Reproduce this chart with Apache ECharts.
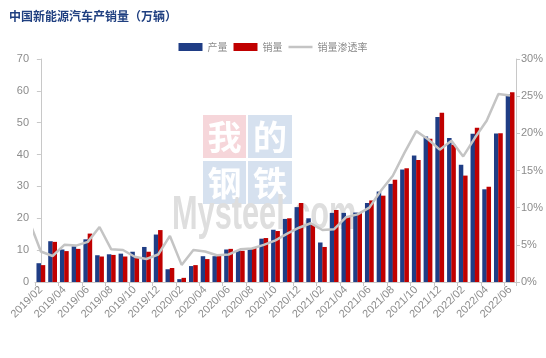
<!DOCTYPE html>
<html>
<head>
<meta charset="utf-8">
<script src="https://cdn.jsdelivr.net/npm/echarts@6/dist/echarts.min.js"></script>
<style>
html,body{margin:0;padding:0;background:#fff;}
#chart{width:546px;height:358px;}
</style>
</head>
<body>
<div id="chart"></div>
<script>
const categories = [
  '2019/02','2019/03','2019/04','2019/05','2019/06','2019/07','2019/08','2019/09','2019/10','2019/11','2019/12',
  '2020/01','2020/02','2020/03','2020/04','2020/05','2020/06','2020/07','2020/08','2020/09','2020/10','2020/11','2020/12',
  '2021/01','2021/02','2021/03','2021/04','2021/05','2021/06','2021/07','2021/08','2021/09','2021/10','2021/11','2021/12',
  '2022/01','2022/02','2022/03','2022/04','2022/05','2022/06'
];
const production = [
  5.9,12.8,10.2,11.2,13.4,8.4,8.7,8.9,9.5,11.0,14.9,
  4.0,0.9,5.0,8.1,8.1,10.2,10.0,10.5,13.6,16.4,19.8,23.5,
  20.0,12.4,21.7,21.7,21.8,24.8,28.4,30.8,35.3,39.7,45.7,51.8,
  45.2,36.8,46.5,29.1,46.6,59.0
];
const sales = [
  5.3,12.6,9.7,10.4,15.2,8.0,8.5,8.0,7.5,9.5,16.3,
  4.4,1.3,5.3,7.2,8.2,10.4,9.8,10.9,13.8,16.0,20.0,24.8,
  17.9,11.0,22.6,20.6,21.7,25.6,27.1,32.1,35.7,38.3,45.0,53.1,
  43.1,33.4,48.4,29.9,46.7,59.6
];
// penetration line value that sits just before the first category (partly visible at the left edge)
const penetrationLead = 8.2;
const penetration = [
  4.1,3.5,5.0,4.9,5.4,7.4,4.4,4.3,3.4,3.1,3.7,
  6.2,2.3,4.3,4.1,3.6,3.7,4.4,4.5,5.0,5.6,6.5,7.3,
  7.9,7.0,7.1,8.7,9.1,10.0,12.3,14.3,17.4,20.3,19.2,17.8,
  19.0,16.9,19.4,21.7,25.3,25.1
];
const leftTicks = {min:0, max:70, interval:10};
const rightTicks = {min:0, max:30, interval:5};

const lineData = [[-1, penetrationLead]].concat(penetration.map((v,i)=>[i, v]));

const chart = echarts.init(document.getElementById('chart'));
const gray = '#8c8c8c';
const axisGray = '#c8c8c8';
const wmFont = '"Noto Sans CJK SC", sans-serif';
chart.setOption({
  animation:false,
  backgroundColor:'#fff',
  title:{
    text:'中国新能源汽车产销量（万辆）',
    left:4, top:5,
    textStyle:{fontSize:12, fontWeight:'bold', color:'#1f3f80', fontFamily:'"Noto Sans CJK SC", sans-serif'}
  },
  legend:{
    top:37, left:'center',
    itemWidth:24, itemHeight:8, itemGap:6,
    textStyle:{fontSize:10, color:gray, fontFamily:'"Noto Sans CJK SC", sans-serif'},
    data:[{name:'产量', icon:'rect'},{name:'销量', icon:'rect'},{name:'销量渗透率', icon:'path://M0,0h24v2.5h-24z'}]
  },
  grid:{left:35, right:30, top:59, bottom:76, containLabel:false},
  graphic:[
    {type:'rect', z:0, shape:{x:203,y:115,width:43,height:43}, style:{fill:'#f6d6da'}},
    {type:'rect', z:0, shape:{x:248,y:115,width:44,height:43}, style:{fill:'#d6e1ef'}},
    {type:'rect', z:0, shape:{x:203,y:161,width:43,height:43}, style:{fill:'#d6e1ef'}},
    {type:'rect', z:0, shape:{x:248,y:161,width:44,height:43}, style:{fill:'#d6e1ef'}},
    {type:'text', z:0, style:{text:'我', x:224.5, y:137, textAlign:'center', textVerticalAlign:'middle', font:'bold 34px '+wmFont, fill:'#ffffff'}},
    {type:'text', z:0, style:{text:'的', x:270, y:137, textAlign:'center', textVerticalAlign:'middle', font:'bold 34px '+wmFont, fill:'#ffffff'}},
    {type:'text', z:0, style:{text:'钢', x:224.5, y:183, textAlign:'center', textVerticalAlign:'middle', font:'bold 34px '+wmFont, fill:'#ffffff'}},
    {type:'text', z:0, style:{text:'铁', x:270, y:183, textAlign:'center', textVerticalAlign:'middle', font:'bold 34px '+wmFont, fill:'#ffffff'}},
    {type:'text', z:0, x:172, y:240, scaleX:0.64, scaleY:1, style:{text:'Mysteel.com', x:0, y:0, textAlign:'left', textVerticalAlign:'bottom', font:'bold 48px "Liberation Sans", Arial, sans-serif', fill:'#dedede'}}
  ],
  xAxis:[
    {
      type:'category', data:categories, boundaryGap:true,
      axisLine:{lineStyle:{color:axisGray, width:1}},
      axisTick:{show:true, interval:1, length:4, lineStyle:{color:axisGray}},
      axisLabel:{interval:1, rotate:45, fontSize:11, color:gray, margin:6, fontFamily:'"Liberation Sans", Arial, sans-serif'},
      splitLine:{show:false}
    },
    {
      type:'value', min:-0.5, max:40.5, show:false, splitLine:{show:false}
    }
  ],
  yAxis:[
    {
      type:'value', min:leftTicks.min, max:leftTicks.max, interval:leftTicks.interval,
      axisLine:{show:true, lineStyle:{color:axisGray}},
      axisTick:{show:true, length:4, lineStyle:{color:axisGray}},
      axisLabel:{fontSize:11, color:gray, margin:6, fontFamily:'"Liberation Sans", Arial, sans-serif'},
      splitLine:{show:false}
    },
    {
      type:'value', min:rightTicks.min, max:rightTicks.max, interval:rightTicks.interval, position:'right',
      axisLine:{show:true, lineStyle:{color:axisGray}},
      axisTick:{show:true, length:4, lineStyle:{color:axisGray}},
      axisLabel:{fontSize:11, color:gray, margin:5, formatter:'{value}%', fontFamily:'"Liberation Sans", Arial, sans-serif'},
      splitLine:{show:false}
    }
  ],
  series:[
    {name:'产量', type:'bar', data:production, barWidth:4.5, barGap:'-5%', itemStyle:{color:'#1f3d85'}, z:3},
    {name:'销量', type:'bar', data:sales, barWidth:4.5, itemStyle:{color:'#c00000'}, z:3},
    {name:'销量渗透率', type:'line', xAxisIndex:1, yAxisIndex:1, data:lineData, symbol:'none', clip:true,
     lineStyle:{color:'#c4c4c4', width:2.5}, itemStyle:{color:'#c4c4c4'}, z:4}
  ]
});
</script>
</body>
</html>
